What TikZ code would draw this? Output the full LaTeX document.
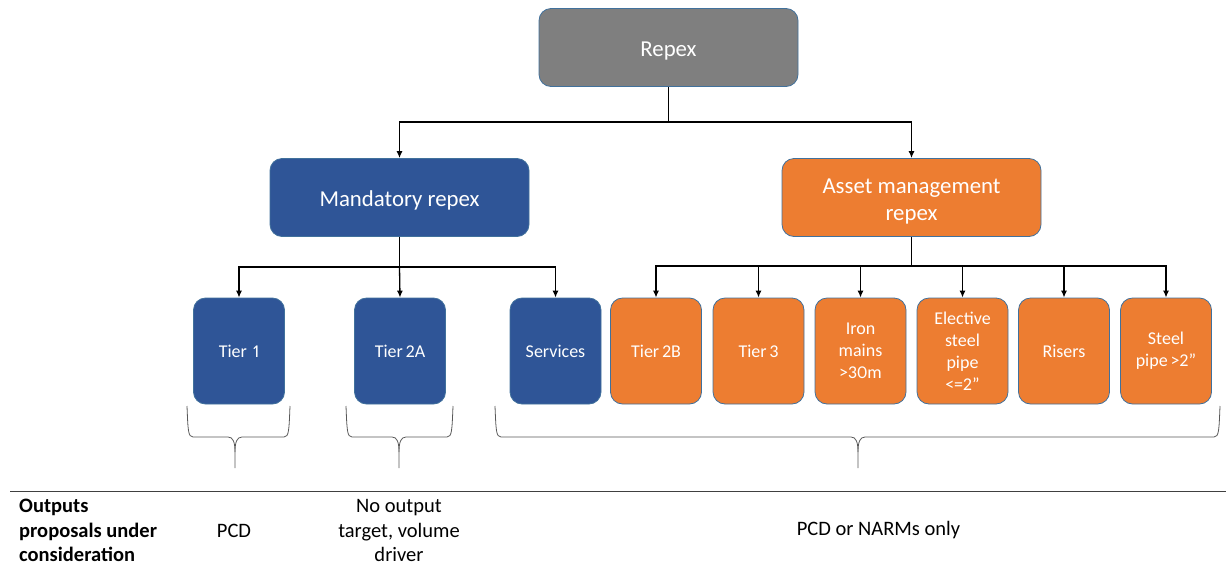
\documentclass[tikz,border=0pt]{standalone}
\usepackage{fontspec}
\setmainfont{Carlito}[Numbers=Proportional]
\usetikzlibrary{arrows.meta}
\definecolor{bgray}{HTML}{7F7F7F}
\definecolor{bblue}{HTML}{2F5597}
\definecolor{borange}{HTML}{ED7D31}
\definecolor{bedge}{HTML}{41719C}
\tikzset{
  box/.style={draw=bedge, line width=0.8pt, rounded corners=12pt, text=white, align=center, inner sep=2pt},
  bigbox/.style={box, minimum width=259pt, minimum height=78pt, font=\fontsize{22.8}{27}\selectfont},
  smallbox/.style={box, minimum width=91pt, minimum height=106pt, text width=86pt, font=\fontsize{18}{22}\selectfont},
  conn/.style={line width=1.3pt, black},
  arr/.style={conn, -{Latex[length=7pt,width=6pt]}},
  brc/.style={draw=black!65, line width=0.8pt},
  lbl/.style={font=\fontsize{20.5}{24.5}\selectfont, align=center, inner sep=0pt}
}
\newcommand{\topstrut}{\rule{0pt}{22pt}}
\newcommand{\nkern}{\kern-3pt}
% custom curly brace: left x, right x, tip x
\newcommand{\mycurly}[3]{%
  \draw[brc] (#1,406) .. controls (#1+1,430) and (#1+1,437) .. (#1+6,437)
    -- (#3-7,437) .. controls (#3-2,437) and (#3,442) .. (#3,452) -- (#3,468);
  \draw[brc] (#3,452) .. controls (#3,442) and (#3+2,437) .. (#3+7,437)
    -- (#2-6,437) .. controls (#2-1,437) and (#2-1,430) .. (#2,406);
}
\begin{document}
\begin{tikzpicture}[x=1pt,y=-1pt]
\useasboundingbox (0,0) rectangle (1226,568);
% top level
\node[bigbox, fill=bgray] (repex) at (668.5,47.5) {\topstrut Repex};
\node[bigbox, fill=bblue] (mand) at (399.5,197.5) {\topstrut Mandatory repex};
\node[bigbox, fill=borange] (asset) at (911.5,197.5) {\topstrut Asset management\\repex};
% leaf boxes
\node[smallbox, fill=bblue] (t1) at (239,351) {Tier 1};
\node[smallbox, fill=bblue] (t2a) at (400,351) {Tier \nkern2A};
\node[smallbox, fill=bblue] (serv) at (555.5,351) {Services};
\node[smallbox, fill=borange] (t2b) at (656,351) {Tier \nkern2B};
\node[smallbox, fill=borange] (t3) at (758.5,351) {Tier \nkern3};
\node[smallbox, fill=borange] (iron) at (860.5,351) {Iron\\mains\\>30m};
\node[smallbox, fill=borange] (elec) at (962.5,351) {Elective\\steel\\pipe\\<=2”};
\node[smallbox, fill=borange] (ris) at (1064,351) {Risers};
\node[smallbox, fill=borange] (steel) at (1166,351) {Steel\\pipe \nkern>2”};
% connectors
\coordinate (j0) at (668.5,122);
\draw[conn] (repex.south) -- (j0);
\draw[arr] (j0) -| (mand.north);
\draw[arr] (j0) -| (asset.north);
\coordinate (j1) at (399.5,267);
\draw[conn] (mand.south) -- (j1);
\draw[arr] (j1) -| (t1.north);
\draw[arr] (j1) -- (t2a.north);
\draw[arr] (j1) -| (serv.north);
\coordinate (j2) at (911.5,266);
\draw[conn] (asset.south) -- (j2);
\foreach \n in {t2b,t3,iron,elec,ris,steel} {\draw[arr] (j2) -| (\n.north);}
% braces
\mycurly{187}{290}{235}
\mycurly{346}{453}{399}
\mycurly{495}{1220}{858}
% separator line
\coordinate (hl) at (10,491); \coordinate (hr) at (1226,491);
\draw[line width=1pt, black!75] (hl) -- (hr);
% bottom labels
\node[lbl, font=\fontsize{20.5}{24.5}\selectfont\bfseries, align=left, anchor=west] (outs) at (19,530.5) {Outputs\\proposals under\\consideration};
\node[lbl] (pcd1) at (234,530.5) {PCD};
\node[lbl] (noout) at (399,530.5) {No output\\target, volume\\driver};
\node[lbl] (pcd3) at (878.5,530.5) {PCD or NARMs only};
\end{tikzpicture}
\end{document}
